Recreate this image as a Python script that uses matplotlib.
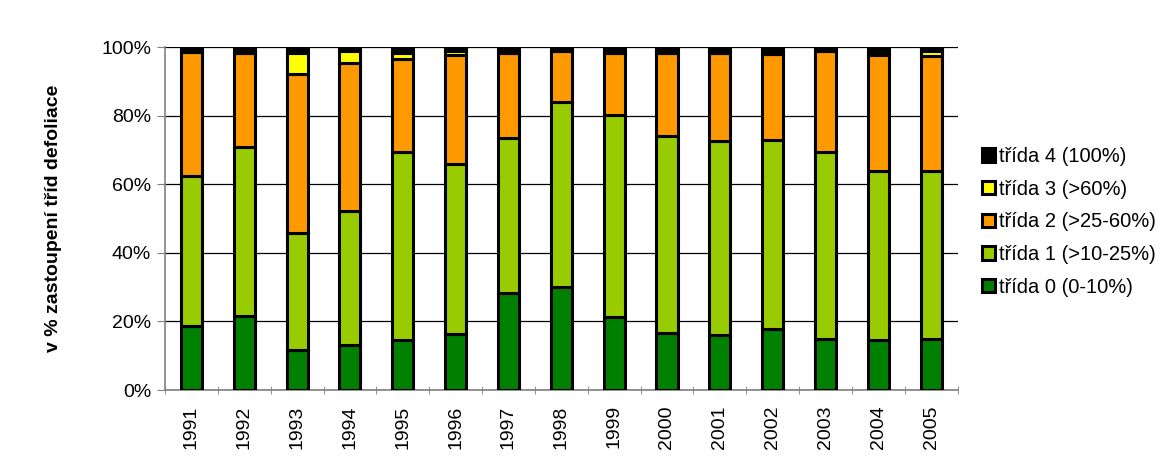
import matplotlib.pyplot as plt
import numpy as np

plt.rcParams['font.family'] = ['Liberation Sans', 'DejaVu Sans']

# Roky a podíly tříd defoliace (v %)
roky = ['1991', '1992', '1993', '1994', '1995', '1996', '1997', '1998',
        '1999', '2000', '2001', '2002', '2003', '2004', '2005']
trida0 = [18.7, 21.6, 11.7, 13.1, 14.6, 16.3, 28.4, 30.0, 21.2, 16.5, 16.0, 17.7, 14.8, 14.6, 14.8]
trida1 = [43.7, 49.2, 34.0, 39.0, 54.8, 49.6, 45.0, 54.0, 59.1, 57.6, 56.7, 55.2, 54.7, 49.3, 49.1]
trida2 = [36.0, 27.4, 46.4, 43.3, 27.1, 31.8, 24.9, 14.9, 18.0, 24.2, 25.6, 25.1, 29.3, 33.8, 33.6]
trida3 = [0.0, 0.0, 6.1, 3.4, 1.8, 1.0, 0.0, 0.0, 0.0, 0.0, 0.0, 0.0, 0.0, 0.6, 1.2]
trida4 = [1.6, 1.8, 1.8, 1.2, 1.7, 1.3, 1.7, 1.1, 1.7, 1.7, 1.7, 2.0, 1.2, 1.7, 1.3]

tridy = [trida0, trida1, trida2, trida3, trida4]
popisky = ['třída 0 (0-10%)', 'třída 1 (>10-25%)', 'třída 2 (>25-60%)',
           'třída 3 (>60%)', 'třída 4 (100%)']
barvy = ['#008000', '#99CC00', '#FF9900', '#FFFF00', '#000000']

fig = plt.figure(figsize=(11.75, 4.72), dpi=100)
ax = fig.add_axes([0.1404, 0.1737, 0.6746, 0.7267])

x = np.arange(len(roky))
spodek = np.zeros(len(roky))
for hodnoty, popis, barva in zip(tridy, popisky, barvy):
    h = np.array(hodnoty) / 100.0
    ax.bar(x, h, width=0.4, bottom=spodek, color=barva, edgecolor='black',
           linewidth=2.2, label=popis, zorder=3)
    spodek += h

ax.set_xlim(-0.5, len(roky) - 0.5)
ax.set_ylim(0, 1)
ax.set_yticks(np.arange(0, 1.01, 0.2))
ax.set_yticklabels(['0%', '20%', '40%', '60%', '80%', '100%'], fontsize=14)
ax.set_xticks(x)
ax.set_xticklabels(roky, rotation=90, fontsize=14)
ax.set_xticks(np.arange(-0.5, len(roky)), minor=True)
ax.tick_params(axis='x', which='major', length=0, pad=11)
ax.tick_params(axis='x', which='minor', length=6, direction='inout', color='#808080')
ax.tick_params(axis='y', length=6, direction='out', color='#808080', pad=4)

ax.yaxis.grid(True, color='black', linewidth=0.9, zorder=0)
ax.set_axisbelow(True)
for s in ['top', 'right']:
    ax.spines[s].set_visible(False)
for s in ['left', 'bottom']:
    ax.spines[s].set_color('#808080')
    ax.spines[s].set_linewidth(1.2)

ax.set_ylabel('v % zastoupení tříd defoliace', fontsize=14, fontweight='bold', labelpad=28)

h, l = ax.get_legend_handles_labels()
ax.legend(h[::-1], l[::-1], loc='center left', bbox_to_anchor=(1.02, 0.49),
          frameon=False, fontsize=14.5, handlelength=0.65, handleheight=0.65,
          handletextpad=0.2, labelspacing=0.68, borderaxespad=0)

fig.savefig('out.png', dpi=100)
